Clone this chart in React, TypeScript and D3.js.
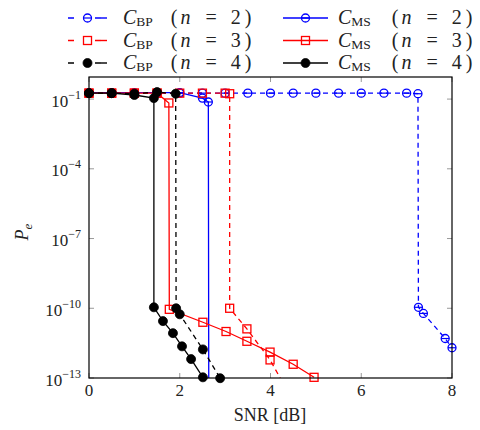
import React from "react";
import * as d3 from "d3";

// ---- data (SNR in dB, Pe) ----
const bp2X = [0, 0.5, 1, 1.5, 2, 2.5, 3, 3.5, 4, 4.5, 5, 5.5, 6, 6.5, 7, 7.25, 7.26, 7.37, 7.85, 8];
const bp2Y = [0.18, 0.18, 0.18, 0.18, 0.18, 0.18, 0.18, 0.18, 0.18, 0.18, 0.18, 0.18, 0.18, 0.18, 0.18, 0.17, 1.1e-10, 6e-11, 5e-12, 2e-12];
const ms2X = [0, 0.5, 1, 1.5, 2, 2.5, 2.63, 2.64];
const ms2Y = [0.19, 0.19, 0.19, 0.19, 0.19, 0.11, 0.075, 1e-14];
const bp3X = [0, 0.5, 1, 1.5, 2, 2.5, 3, 3.1, 3.1, 3.48, 3.99, 4.5];
const bp3Y = [0.18, 0.18, 0.18, 0.18, 0.18, 0.18, 0.18, 0.17, 1e-10, 1.3e-11, 6e-13, 1e-14];
const ms3X = [0, 0.5, 1, 1.5, 1.76, 1.77, 2.51, 3.02, 3.48, 3.99, 4.5, 4.96];
const ms3Y = [0.18, 0.18, 0.18, 0.18, 0.068, 9e-11, 2.5e-11, 1e-11, 3.8e-12, 1.3e-12, 3.9e-13, 1.07e-13];
const bp4X = [0, 0.5, 1, 1.5, 1.91, 1.92, 2.0, 2.51, 2.89];
const bp4Y = [0.18, 0.18, 0.17, 0.2, 0.17, 1e-10, 5.5e-11, 1.7e-12, 9.8e-14];
const ms4X = [0, 0.5, 1, 1.43, 1.43, 1.63, 1.85, 2.05, 2.25, 2.51];
const ms4Y = [0.18, 0.18, 0.15, 0.11, 1.1e-10, 2.8e-11, 8.5e-12, 2.3e-12, 6.5e-13, 1.07e-13];

const xTicks = [0, 2, 4, 6, 8];
const yTickExps = [-1, -4, -7, -10, -13];
const legendNs = [2, 3, 4];

type Series = { xs: number[]; ys: number[]; color: string; dashed: boolean; marker: "circle" | "square" | "dot"; sub: string; n: number };

const series: Series[] = [
  { xs: bp2X, ys: bp2Y, color: "#0000ff", dashed: true, marker: "circle", sub: "BP", n: 2 },
  { xs: ms2X, ys: ms2Y, color: "#0000ff", dashed: false, marker: "circle", sub: "MS", n: 2 },
  { xs: bp3X, ys: bp3Y, color: "#ff0000", dashed: true, marker: "square", sub: "BP", n: 3 },
  { xs: ms3X, ys: ms3Y, color: "#ff0000", dashed: false, marker: "square", sub: "MS", n: 3 },
  { xs: bp4X, ys: bp4Y, color: "#000000", dashed: true, marker: "dot", sub: "BP", n: 4 },
  { xs: ms4X, ys: ms4Y, color: "#000000", dashed: false, marker: "dot", sub: "MS", n: 4 },
];

const L = 89, R = 452, T = 77, B = 378;
const yMin = 1e-13, yMax = Math.pow(10, -0.05);
const x = d3.scaleLinear().domain([0, 8]).range([L, R]);
const y = d3.scaleLog().domain([yMin, yMax]).range([B, T]);

const FONT = "'Liberation Serif', 'DejaVu Serif', serif";

function Marker({ kind, cx, cy, color }: { kind: string; cx: number; cy: number; color: string }) {
  if (kind === "circle")
    return (
      <g>
        <circle cx={cx} cy={cy} r={4} fill="none" stroke={color} strokeWidth={1.3} />
        <line x1={cx - 4} x2={cx + 4} y1={cy} y2={cy} stroke={color} strokeWidth={1.2} />
      </g>
    );
  if (kind === "square")
    return <rect x={cx - 4} y={cy - 4} width={8} height={8} fill="none" stroke={color} strokeWidth={1.3} />;
  return <circle cx={cx} cy={cy} r={4.5} fill={color} stroke={color} strokeWidth={0.8} />;
}

export default function App() {
  const line = d3
    .line<[number, number]>()
    .x((d) => x(d[0]))
    .y((d) => y(d[1]));

  const legendRows = legendNs.map((n, i) => 24 + i * 22.5);

  return (
    <svg width={480} height={430} style={{ display: "block", position: "absolute", left: 0, top: 0 }} fontFamily={FONT}>
      <defs>
        <clipPath id="plotclip">
          <rect x={L} y={T} width={R - L} height={B - T} />
        </clipPath>
      </defs>
      <rect x={0} y={0} width={480} height={430} fill="#fff" />

      {/* ticks */}
      {xTicks.map((t) => (
        <g key={"xt" + t}>
          <line x1={x(t)} x2={x(t)} y1={B} y2={B - 5} stroke="#999" strokeWidth={1} />
          <line x1={x(t)} x2={x(t)} y1={T} y2={T + 5} stroke="#999" strokeWidth={1} />
          <text x={x(t)} y={B + 18} textAnchor="middle" fontSize={17} fill="#222">
            {t}
          </text>
        </g>
      ))}
      {yTickExps.map((e) => {
        const yy = y(Math.pow(10, e));
        return (
          <g key={"yt" + e}>
            <line x1={L} x2={L + 5} y1={yy} y2={yy} stroke="#999" strokeWidth={1} />
            <line x1={R} x2={R - 5} y1={yy} y2={yy} stroke="#999" strokeWidth={1} />
            <text x={L - 8} y={yy + 7.5} textAnchor="end" fontSize={17} fill="#222">
              10
              <tspan dy={-8} fontSize={12}>
                {"\u2212" + Math.abs(e)}
              </tspan>
            </text>
          </g>
        );
      })}

      {/* series lines */}
      <g clipPath="url(#plotclip)">
        {series.map((s, i) => (
          <path
            key={"l" + i}
            d={line(s.xs.map((v, j) => [v, s.ys[j]] as [number, number])) || ""}
            fill="none"
            stroke={s.color}
            strokeWidth={1.3}
            strokeDasharray={s.dashed ? "5,4" : undefined}
          />
        ))}
      </g>
      {series.map((s, i) => (
        <g key={"m" + i}>
          {s.xs.map((v, j) =>
            s.ys[j] >= yMin * 0.95 && s.ys[j] <= yMax ? (
              <Marker key={j} kind={s.marker} cx={x(v)} cy={y(s.ys[j])} color={s.color} />
            ) : null
          )}
        </g>
      ))}

      {/* axis box */}
      <rect x={L} y={T} width={R - L} height={B - T} fill="none" stroke="#000" strokeWidth={1.2} />

      {/* axis labels */}
      <text x={270} y={421} textAnchor="middle" fontSize={18} fill="#222">
        SNR [dB]
      </text>
      <text transform={`translate(28,232) rotate(-90)`} textAnchor="middle" fontSize={18} fill="#222">
        <tspan fontStyle="italic">P</tspan>
        <tspan fontStyle="italic" fontSize={13} dy={4}>
          e
        </tspan>
      </text>

      {/* legend */}
      {series.map((s, i) => {
        const row = Math.floor(i / 2);
        const col = i % 2;
        const yy = legendRows[row];
        const cy = yy - 6;
        const lx1 = col === 0 ? 68 : 283;
        const lx2 = col === 0 ? 107 : 328;
        const tx = col === 0 ? 123 : 338;
        const gap = col === 0 ? 18 : 21;
        return (
          <g key={"lg" + i}>
            <line
              x1={lx1}
              x2={lx2}
              y1={cy}
              y2={cy}
              stroke={s.color}
              strokeWidth={1.4}
              strokeDasharray={s.dashed ? "6,21" : undefined}
            />
            {s.dashed && <line x1={lx2 - 6} x2={lx2} y1={cy} y2={cy} stroke={s.color} strokeWidth={1.4} />}
            <Marker kind={s.marker} cx={(lx1 + lx2) / 2} cy={cy} color={s.color} />
            <text x={tx} y={yy} fontSize={20} fill="#222">
              <tspan fontStyle="italic">C</tspan>
              <tspan fontSize={13.5} dy={2}>
                {s.sub}
              </tspan>
              <tspan dy={-2} dx={gap}>(</tspan>
              <tspan dx={3} fontStyle="italic">n</tspan>
              <tspan dx={15}>=</tspan>
              <tspan dx={14}>{s.n}</tspan>
              <tspan dx={4}>)</tspan>
            </text>
          </g>
        );
      })}
    </svg>
  );
}
